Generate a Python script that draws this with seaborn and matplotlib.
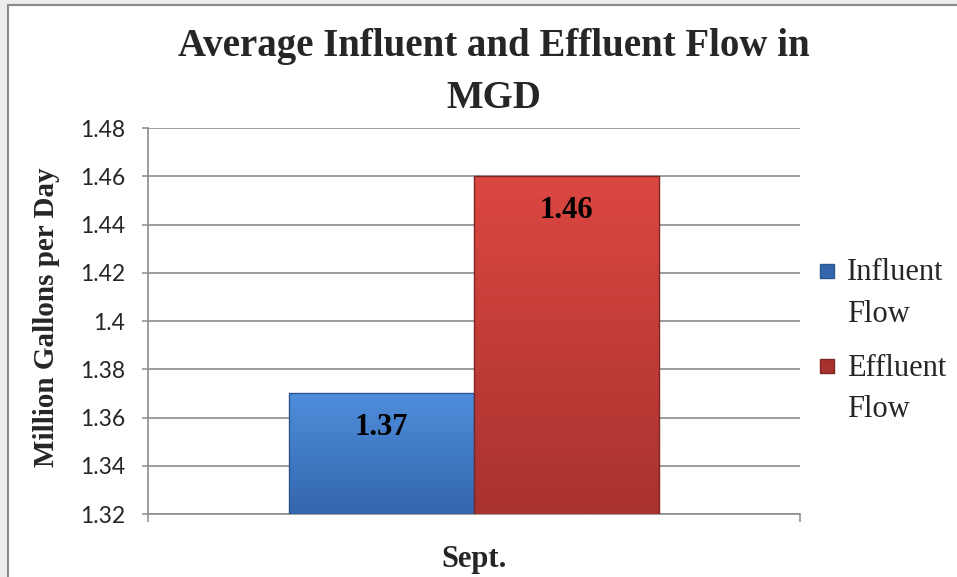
import numpy as np
import pandas as pd
import matplotlib
matplotlib.use("Agg")
import matplotlib.pyplot as plt
import seaborn as sns
from matplotlib.patches import Rectangle, Patch
from matplotlib.legend_handler import HandlerPatch
from matplotlib.colors import LinearSegmentedColormap

# data
months = ["Sept."]
series_names = ["Influent Flow", "Effluent Flow"]
influent = [1.37]
effluent = [1.46]
ytick_vals = [1.32, 1.34, 1.36, 1.38, 1.40, 1.42, 1.44, 1.46, 1.48]
ytick_labels = ["1.32", "1.34", "1.36", "1.38", "1.4", "1.42", "1.44", "1.46", "1.48"]

df = pd.DataFrame({
    "month": months * 2,
    "series": [series_names[0]] * len(months) + [series_names[1]] * len(months),
    "flow": influent + effluent,
})

sns.set_theme(style="white")
plt.rcParams["font.family"] = ["Liberation Serif", "DejaVu Serif"]

blue_top, blue_bot, blue_edge = "#4e8edb", "#3466ae", "#2b568f"
red_top, red_bot, red_edge = "#dc4742", "#a8322e", "#7e2522"
grid_col = "#8c8c8c"

fig = plt.figure(figsize=(9.57, 5.77), dpi=100, facecolor="#ededed")
# chart frame
fig.patches.append(Rectangle((8 / 957, -0.05), 1.1, 1 - 5 / 577 + 0.05,
                             transform=fig.transFigure, facecolor="white",
                             edgecolor="#8a8a8a", lw=1.5, zorder=-10))
ax = fig.add_axes([148 / 957, 1 - 514 / 577, 652 / 957, 386 / 577])
ax.set_facecolor("none")

sns.barplot(data=df, x="month", y="flow", hue="series", hue_order=series_names,
            palette=[blue_bot, red_bot], width=0.567, saturation=1,
            legend=False, ax=ax, zorder=3)

ax.set_ylim(1.32, 1.48)
ax.set_xlim(-0.5, 0.5)

# gradient fill clipped to each bar
grads = [(blue_top, blue_bot, blue_edge), (red_top, red_bot, red_edge)]
for patch, (c_top, c_bot, c_edge) in zip(ax.patches, grads):
    x0 = patch.get_x()
    w = patch.get_width()
    h = patch.get_height()
    cmap = LinearSegmentedColormap.from_list("g", [c_bot, c_top])
    grad = np.linspace(0, 1, 256).reshape(-1, 1)
    im = ax.imshow(grad, cmap=cmap, aspect="auto", origin="lower",
                   extent=(x0, x0 + w, 1.32, h), zorder=3.5)
    im.set_clip_path(patch)
    patch.set_edgecolor(c_edge)
    patch.set_linewidth(1.0)
    patch.set_zorder(4)
    patch.set_facecolor("none")
    ax.annotate(f"{h:.2f}", xy=(x0 + w / 2, h), xytext=(0, -14),
                textcoords="offset points", ha="center", va="top",
                fontsize=22, fontweight="bold", color="black", zorder=6)

# y axis
ax.set_yticks(ytick_vals)
ax.set_yticklabels(ytick_labels, fontfamily="Lato", fontsize=16.5)
ax.yaxis.grid(True, color=grid_col, lw=1.2)
ax.set_axisbelow(True)
ax.tick_params(axis="y", which="major", left=True, length=4.5, width=1.1,
               color=grid_col, pad=12, direction="out")
ax.set_ylabel("Million Gallons per Day", fontsize=21, fontweight="bold")
ax.yaxis.set_label_coords((60 - 148) / 652, 0.51)

# x axis
ax.set_xlabel("")
ax.set_xticks([0])
ax.set_xticklabels(months, fontsize=22, fontweight="bold")
ax.set_xticks([-0.5, 0.5], minor=True)
ax.tick_params(axis="x", which="major", length=0, pad=22)
ax.tick_params(axis="x", which="minor", bottom=True, length=6, width=1.1,
               color=grid_col, direction="out")

for side in ["top", "right"]:
    ax.spines[side].set_visible(False)
for side in ["left", "bottom"]:
    ax.spines[side].set_color(grid_col)
    ax.spines[side].set_linewidth(1.2)

# title
fig.text(494 / 957, 1 - 28 / 577, "Average Influent and Effluent Flow in\nMGD",
         ha="center", va="top", fontsize=28, fontweight="bold", linespacing=1.55)


# legend: small square aligned with first text line
def top_square(legend, orig_handle, xdescent, ydescent, width, height, fontsize):
    s = 14 / 100 * 72
    return Rectangle((-xdescent, -ydescent + height - s + 6), s, s)


handles = [Patch(facecolor=blue_bot, edgecolor=blue_edge),
           Patch(facecolor=red_bot, edgecolor=red_edge)]
labels = [name.replace(" ", "\n") for name in series_names]
leg = fig.legend(handles, labels, loc="upper left",
                 bbox_to_anchor=(792 / 957, 1 - 231 / 577),
                 frameon=False, fontsize=22, handlelength=0.5, handleheight=1.9,
                 handletextpad=0.4, labelspacing=0.82,
                 handler_map={Patch: HandlerPatch(patch_func=top_square)})
for t in leg.get_texts():
    t.set_linespacing(1.55)

fig.savefig("out.png", dpi=100, facecolor=fig.get_facecolor())
